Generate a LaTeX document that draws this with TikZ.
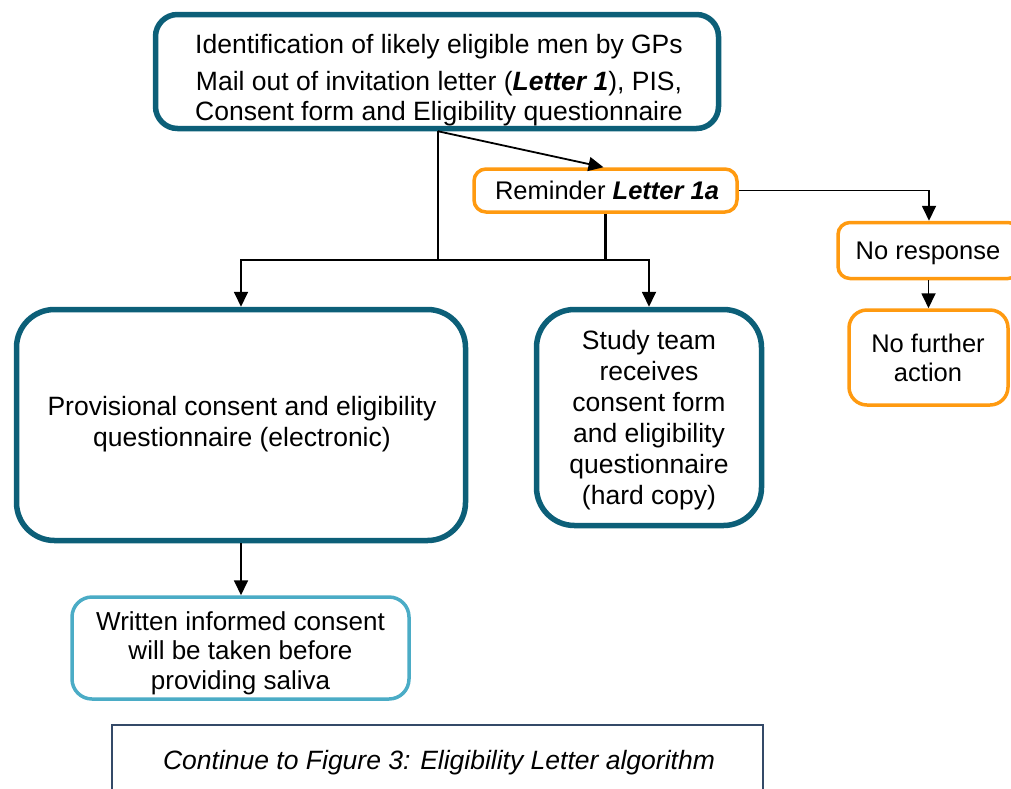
\documentclass[tikz,border=0pt]{standalone}
\usepackage{fontspec}
\setmainfont{Liberation Sans}
\usetikzlibrary{arrows.meta,calc}
\definecolor{teal}{RGB}{12,95,120}
\definecolor{orng}{RGB}{255,154,16}
\definecolor{lblue}{RGB}{75,172,198}
\definecolor{slate}{RGB}{52,74,104}
\tikzset{
  box/.style={draw, rectangle, fill=white},
  tealbox/.style={box, draw=teal, line width=5.5pt},
  orngbox/.style={box, draw=orng, line width=3.5pt, rounded corners=12pt},
  lbbox/.style={box, draw=lblue, line width=3.5pt, rounded corners=20pt},
  txt/.style={align=center, font=\fontsize{26.5}{31}\selectfont, inner sep=0pt},
  conn/.style={draw=black, line width=1.8pt},
  arr/.style={conn, -{Triangle[length=15pt,width=14pt]}},
}
\begin{document}
\begin{tikzpicture}[x=1pt,y=-1pt]
\useasboundingbox (0,0) rectangle (1011,788);
\clip (0,0) rectangle (1011,788);
% boxes
\node[tealbox, rounded corners=22pt, minimum width=563pt, minimum height=114pt] (top) at (437,71.5) {};
\node[txt, font=\fontsize{26.5}{29.5}\selectfont] (toptxt) at (439,80) {Identification of likely eligible men by GPs\\[8pt]
Mail out of invitation letter (\textbf{\textit{Letter 1}}), PIS,\\
Consent form and Eligibility questionnaire};
\node[orngbox, minimum width=263pt, minimum height=43pt] (rem) at (605.5,190.5) {};
\node[txt, font=\fontsize{25.5}{30}\selectfont] (remtxt) at (607,190) {Reminder \textbf{\textit{Letter 1a}}};
\node[orngbox, minimum width=182pt, minimum height=56pt] (nores) at (929,250.5) {};
\node[txt, font=\fontsize{25.5}{30}\selectfont] (norestxt) at (928,253.5) {No response};
\node[orngbox, rounded corners=18pt, minimum width=159pt, minimum height=95pt] (nfa) at (928.5,357.5) {};
\node[txt, font=\fontsize{25.5}{29.5}\selectfont] (nfatxt) at (928,358) {No further\\action};
\node[tealbox, rounded corners=38pt, minimum width=449pt, minimum height=231pt] (prov) at (241,425) {};
\node[txt] (provtxt) at (242,424) {Provisional consent and eligibility\\questionnaire (electronic)};
\node[tealbox, rounded corners=38pt, minimum width=225pt, minimum height=216pt] (study) at (649,417.5) {};
\node[txt] (studytxt) at (649,420.5) {Study team\\receives\\consent form\\and eligibility\\questionnaire\\(hard copy)};
\node[lbbox, minimum width=337pt, minimum height=102pt] (wic) at (240.5,648) {};
\node[txt, font=\fontsize{26}{29.5}\selectfont] (wictxt) at (240.5,653) {Written informed consent\\will be taken before\\providing saliva};
\node[box, draw=slate, line width=1.6pt, minimum width=651pt, minimum height=100pt] (cont) at (437.5,775) {};
\node[txt, font=\fontsize{26.5}{31}\selectfont\itshape] (conttxt) at (439,763) {Continue to Figure 3: Eligibility Letter algorithm};
% connectors
\coordinate (j) at (438,260);
\coordinate (s) at (top.south -| j);
\draw[conn] (s) -- (j);
\draw[arr] (j) -| (prov.north);
\draw[arr] (j) -| (study.north);
\draw[arr] (s) -- ($(rem.north)+(-2,0)$);
\draw[conn, line width=2.8pt] (rem.south) -- (rem.south |- j);
\draw[arr] (rem.east) -| (nores.north);
\draw[arr] (nores.south -| nfa.north) -- (nfa.north);
\draw[arr] (prov.south) -- (prov.south |- wic.north);
\end{tikzpicture}
\end{document}
